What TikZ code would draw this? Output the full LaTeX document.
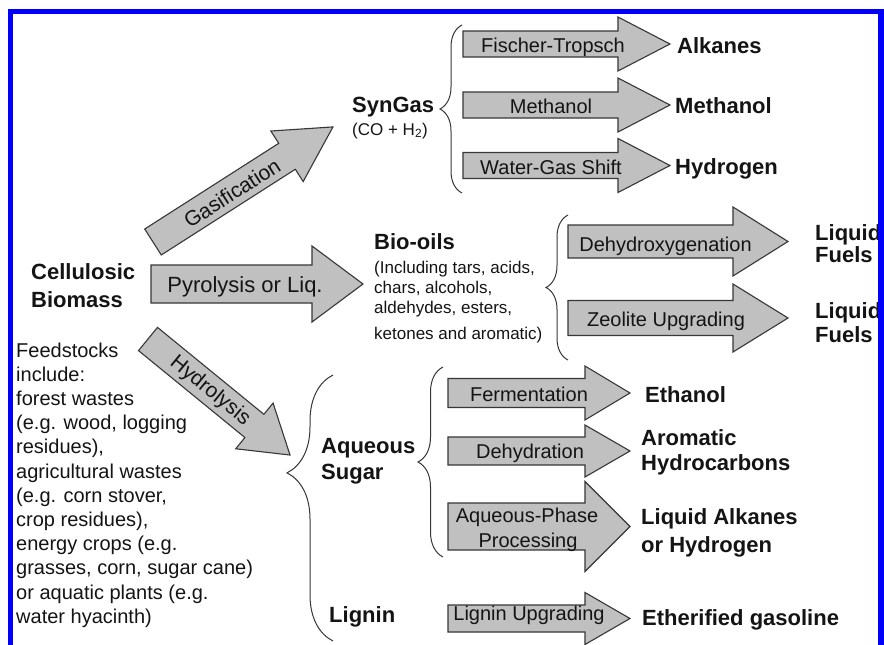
\documentclass[tikz,border=0pt]{standalone}
\usepackage{fontspec}
\setmainfont{Liberation Sans}
\usetikzlibrary{decorations.pathreplacing}
\definecolor{arrowfill}{RGB}{192,192,192}
\definecolor{arrowline}{RGB}{55,55,55}
\definecolor{frameblue}{RGB}{0,0,250}
\definecolor{ink}{RGB}{20,20,20}
% #1 name, #2 tail centre, #3 angle, #4 length, #5 shaft half width, #6 head half width, #7 head length
\newcommand\blockarrow[7]{%
  \begin{scope}[shift={#2}, rotate=#3]
    \draw[barrow] (0,#5) -- ({#4-#7},#5) -- ({#4-#7},#6) -- (#4,0)
      -- ({#4-#7},-#6) -- ({#4-#7},-#5) -- (0,-#5) -- cycle;
    \coordinate (#1) at (0,0);
  \end{scope}}
\begin{document}
\begin{tikzpicture}[x=1pt,y=-1pt,
  barrow/.style={fill=arrowfill, draw=arrowline, line width=1.1pt, line join=miter},
  bigbold/.style={font=\fontsize{22}{26}\selectfont\bfseries, text=ink, anchor=base west, inner sep=0pt},
  plain/.style={font=\fontsize{20}{24}\selectfont, text=ink, anchor=base west, inner sep=0pt},
  small/.style={font=\fontsize{17}{20}\selectfont, text=ink, anchor=base west, inner sep=0pt},
  intext/.style={font=\fontsize{20}{24}\selectfont, text=ink, anchor=base, inner sep=0pt},
  slanted/.style={font=\fontsize{21}{25}\selectfont, text=ink, inner sep=0pt},
  brc/.style={draw=arrowline, line width=1pt, decorate}
]
\useasboundingbox (0,0) rectangle (884,645);
\fill[white] (0,0) rectangle (884,645);
\begin{scope}
\clip (0,0) rectangle (884,645);

% ---- block arrows ----
\blockarrow{gas}{(153,242)}{32.6}{213.6}{15.4}{30}{54.5}
\blockarrow{pyr}{(151,284)}{0}{212}{19}{38}{51}
\blockarrow{hyd}{(148,339)}{-39.25}{183.4}{15}{29.5}{46}
\blockarrow{ft}{(463,44)}{0}{207}{13}{27}{52}
\blockarrow{me}{(463,105)}{0}{207}{13}{27}{52}
\blockarrow{wgs}{(463,165.5)}{0}{207}{13}{27}{52}
\blockarrow{dho}{(568,241.5)}{0}{220}{16.5}{34.5}{55}
\blockarrow{zeo}{(568,318)}{0}{220}{17.5}{34}{55}
\blockarrow{fer}{(448,393)}{0}{182}{14.5}{27}{45}
\blockarrow{dhy}{(448,451)}{0}{182}{14}{26}{45}
\blockarrow{aqp}{(448,526.5)}{0}{182}{23.5}{45}{45}
\blockarrow{lig}{(448,618.5)}{0}{182}{13.5}{26}{45}

% ---- texts inside arrows ----
\node[slanted, rotate=32.6] (tgas) at (232,193) {Gasification};
\node[font=\fontsize{22}{26}\selectfont, text=ink, inner sep=0pt, anchor=base] (tpyr) at (245,292.5) {Pyrolysis or Liq.};
\node[slanted, rotate=-39.25] (thyd) at (210,391) {Hydrolysis};
\node[intext] (tft) at (553,52.7) {Fischer-Tropsch};
\node[intext] (tme) at (551,113.3) {Methanol};
\node[intext] (twgs) at (551,174) {Water-Gas Shift};
\node[intext] (tdho) at (665.5,251.7) {Dehydroxygenation};
\node[intext] (tzeo) at (666,326.7) {Zeolite Upgrading};
\node[intext] (tfer) at (529,401.7) {Fermentation};
\node[intext] (tdhy) at (530,458) {Dehydration};
\node[intext] (taqp1) at (527,522.7) {Aqueous-Phase};
\node[intext] (taqp2) at (528,547.5) {Processing};
\node[intext] (tlig) at (529,620.5) {Lignin Upgrading};

% ---- labels ----
\node[bigbold] (cell1) at (31,279) {Cellulosic};
\node[bigbold] (cell2) at (31,307) {Biomass};
\node[bigbold] (syn) at (352,112) {SynGas};
\node[small] (syn2) at (352,135) {(CO + H\textsubscript{2})};
\node[bigbold] (alk) at (677,53) {Alkanes};
\node[bigbold] (meo) at (675,113) {Methanol};
\node[bigbold] (hyg) at (675,174) {Hydrogen};
\node[bigbold] (bio) at (374,249) {Bio-oils};
\node[small] (bio1) at (374,273) {(Including tars, acids,};
\node[small] (bio2) at (374,293) {chars, alcohols,};
\node[small] (bio3) at (374,313) {aldehydes, esters,};
\node[small] (bio4) at (374,339) {ketones and aromatic)};
\node[bigbold] (lf1a) at (815,240) {Liquid};
\node[bigbold] (lf1b) at (815,262) {Fuels};
\node[bigbold] (lf2a) at (815,318) {Liquid};
\node[bigbold] (lf2b) at (815,342) {Fuels};
\node[bigbold] (aq1) at (321,453) {Aqueous};
\node[bigbold] (aq2) at (321,479) {Sugar};
\node[bigbold] (lgn) at (329,622) {Lignin};
\node[bigbold] (eth) at (645,402) {Ethanol};
\node[bigbold] (aro1) at (641,445) {Aromatic};
\node[bigbold] (aro2) at (641,470) {Hydrocarbons};
\node[bigbold] (lah1) at (641,524) {Liquid Alkanes};
\node[bigbold] (lah2) at (641,552) {or Hydrogen};
\node[bigbold] (egs) at (642,625) {Etherified gasoline};

\foreach \t [count=\i from 0] in {Feedstocks, include:, forest wastes,
  {(e.g. wood, logging}, {residues),}, agricultural wastes, {(e.g. corn stover,},
  {crop residues),}, {energy crops (e.g.}, {grasses, corn, sugar cane)},
  {or aquatic plants (e.g.}, water hyacinth)}
  \node[plain] (feed\i) at (16,{357+24.2*\i}) {\t};

% ---- braces ----
\draw[brc, decoration={brace, amplitude=22pt, aspect=0.5}] (462,193) -- (462,25);
\draw[brc, decoration={brace, amplitude=22pt, aspect=0.5}] (568,360) -- (568,215);
\draw[brc, decoration={brace, amplitude=46pt, aspect=0.632}] (333,641) -- (333,375);
\draw[brc, decoration={brace, amplitude=25pt, aspect=0.5}] (443,557) -- (443,367);

% ---- frame ----
\fill[frameblue] (8,9) rectangle (884,14);
\fill[frameblue] (8,9) rectangle (13,645);
\fill[frameblue] (878,9) rectangle (884,645);
\end{scope}
\end{tikzpicture}
\end{document}
